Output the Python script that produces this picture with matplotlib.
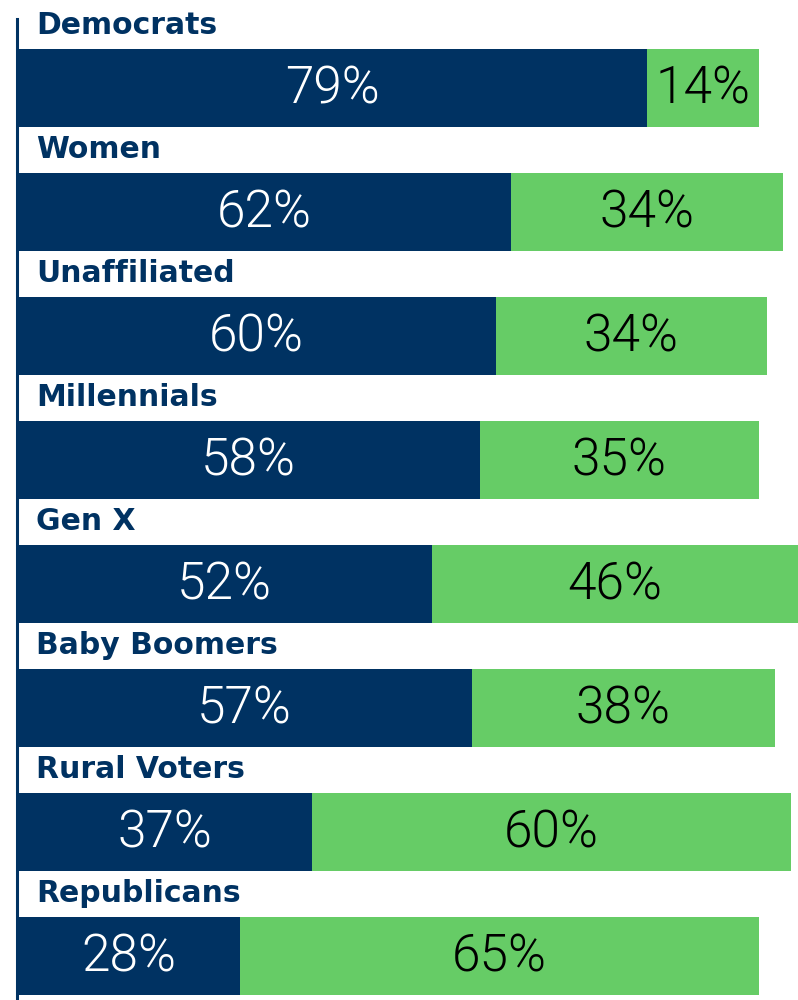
import matplotlib
matplotlib.use('Agg')
import matplotlib.pyplot as plt

# Chart data
groups = ['Democrats', 'Women', 'Unaffiliated', 'Millennials', 'Gen X',
          'Baby Boomers', 'Rural Voters', 'Republicans']
first_pct = [79, 62, 60, 58, 52, 57, 37, 28]
second_pct = [14, 34, 34, 35, 46, 38, 60, 65]

NAVY = '#003262'
GREEN = '#66cc66'

fig = plt.figure(figsize=(7.98, 10), dpi=100)
ax = fig.add_axes([17 / 798, 0, 781 / 798, 1])

ypos = list(range(len(groups)))
bar_h = 78 / 124

ax.barh(ypos, first_pct, height=bar_h, color=NAVY, edgecolor='none')
ax.barh(ypos, second_pct, left=first_pct, height=bar_h, color=GREEN, edgecolor='none')

for y, name, a, b in zip(ypos, groups, first_pct, second_pct):
    # group name above each bar
    ax.text(2.38, y - 0.435, name, ha='left', va='baseline', fontsize=21.5,
            fontweight='bold', color=NAVY, family='DejaVu Sans')
    # values centred in each segment
    ax.text(a / 2, y + 0.02, f'{a}%', ha='center', va='center', fontsize=37,
            fontweight=300, color='white', family='Roboto')
    ax.text(a + b / 2, y + 0.02, f'{b}%', ha='center', va='center', fontsize=37,
            fontweight=300, color='black', family='Roboto')

ax.set_xlim(0, 781 / 7.975)
ax.set_ylim(1000 / 124 - 87.5 / 124, -87.5 / 124)

for s in ['top', 'right', 'bottom']:
    ax.spines[s].set_visible(False)
ax.spines['left'].set_color(NAVY)
ax.spines['left'].set_linewidth(2.2)
ax.spines['left'].set_bounds(-0.55, 1000 / 124)
ax.set_xticks([])
ax.set_yticks([])
ax.patch.set_alpha(0)

fig.savefig('out.png', dpi=100)
